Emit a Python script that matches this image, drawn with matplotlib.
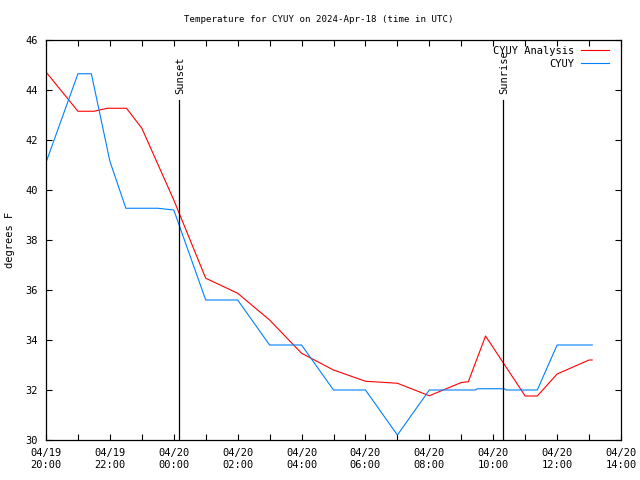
"""Temperature for CYUY: analysis vs. observations (gnuplot-style)."""
import matplotlib
matplotlib.use("Agg")
import matplotlib.pyplot as plt

# hours after 2024-04-19 20:00 UTC
obs_hours = [0, 1, 1.42, 2, 2.5, 3.5, 4.0, 5, 6, 7, 8, 9, 10, 11, 12,
             13.45, 13.5, 14.35, 14.4, 15.38, 16, 17.1]
obs_temp = [41.1, 44.65, 44.65, 41.15, 39.27, 39.27, 39.2, 35.6, 35.6, 33.8, 33.8,
            32.0, 32.0, 30.2, 32.0, 32.0, 32.05, 32.05, 32.0, 32.0, 33.8, 33.8]

ana_hours = [0, 1, 1.5, 1.92, 2.52, 3, 4, 5, 6, 7, 8, 9, 10, 11, 12,
             13, 13.22, 13.76, 15, 15.38, 16, 17, 17.1]
ana_temp = [44.72, 43.15, 43.15, 43.27, 43.27, 42.47, 39.6, 36.47, 35.87, 34.8, 33.47,
            32.8, 32.35, 32.27, 31.77, 32.3, 32.33, 34.16, 31.76, 31.76, 32.64, 33.2, 33.2]

sunset_hour = 4.16
sunrise_hour = 14.31

xtick_hours = [0, 2, 4, 6, 8, 10, 12, 14, 16, 18]
xtick_labels = ["04/19\n20:00", "04/19\n22:00", "04/20\n00:00", "04/20\n02:00",
                "04/20\n04:00", "04/20\n06:00", "04/20\n08:00", "04/20\n10:00",
                "04/20\n12:00", "04/20\n14:00"]
yticks = [30, 32, 34, 36, 38, 40, 42, 44, 46]

FONT = "DejaVu Sans Mono"
plt.rcParams["font.family"] = FONT
plt.rcParams["font.size"] = 7.5

fig = plt.figure(figsize=(6.4, 4.8), dpi=100)
ax = fig.add_axes([46 / 640, 40 / 480, 575 / 640, 400 / 480])

ax.plot(ana_hours, ana_temp, color="#ff0000", linewidth=0.8, label="CYUY Analysis")
ax.plot(obs_hours, obs_temp, color="#0080ff", linewidth=0.8, label="CYUY")

line_top = 43.6
for hour, name in [(sunset_hour, "Sunset"), (sunrise_hour, "Sunrise")]:
    ax.plot([hour, hour], [30, line_top], color="black", linewidth=0.9)
    ax.text(hour + 0.03, 43.85, name, rotation=90, ha="center", va="bottom")

ax.set_xlim(0, 18)
ax.set_ylim(30, 46)
ax.set_xticks(xtick_hours, xtick_labels)
ax.set_xticks(range(1, 18, 2), minor=True)
ax.set_yticks(yticks)
ax.tick_params(which="both", direction="in", length=4, width=0.8,
               top=True, right=True, pad=6)
for spine in ax.spines.values():
    spine.set_linewidth(0.9)

fig.text(10 / 640, 0.5, "degrees F", rotation=90, ha="center", va="center")
fig.text(319 / 640, 1 - 20 / 480, "Temperature for CYUY on 2024-Apr-18 (time in UTC)",
         ha="center", va="center", fontsize=6.6)

leg = ax.legend(loc="upper right", bbox_to_anchor=(0.979, 0.985), frameon=False,
                markerfirst=False, handlelength=2.7, handletextpad=0.6,
                borderaxespad=0, borderpad=0, labelspacing=0.25)
for t in leg.get_texts():
    t.set_ha("right")

fig.savefig("out.png", dpi=100)
